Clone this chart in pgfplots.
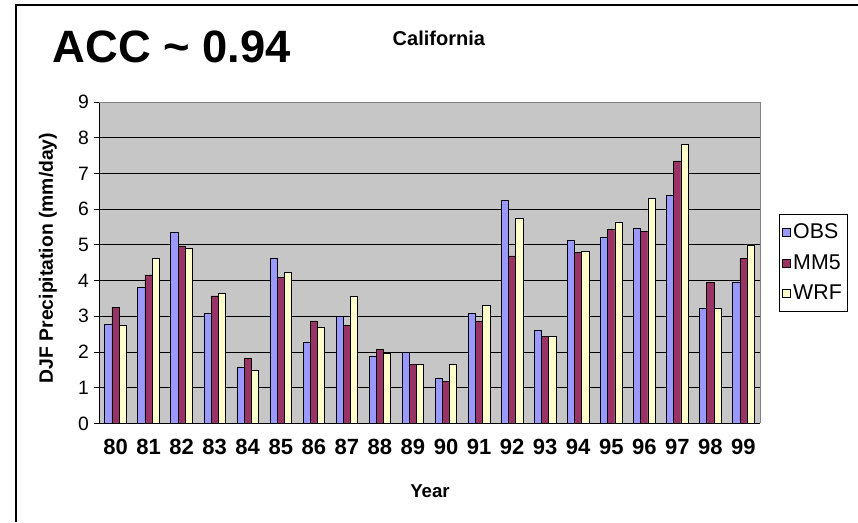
\documentclass[border=0pt]{standalone}
\usepackage{pgfplots}
\pgfplotsset{compat=1.18}
\usepackage{pgfplotstable}
\usepackage{fontspec}
\setmainfont{Liberation Sans}

\definecolor{obs}{HTML}{9999FF}
\definecolor{mmfive}{HTML}{993366}
\definecolor{wrf}{HTML}{FFFFCC}
\definecolor{plotbg}{HTML}{C6C6C6}

% DJF precipitation, California (mm/day)
\pgfplotstableread{
idx yr  obs  mm5  wrf
0   80  2.78 3.26 2.75
1   81  3.82 4.16 4.62
2   82  5.35 4.97 4.91
3   83  3.08 3.57 3.65
4   84  1.56 1.82 1.48
5   85  4.62 4.08 4.24
6   86  2.26 2.87 2.70
7   87  3.00 2.75 3.56
8   88  1.88 2.08 1.95
9   89  2.00 1.65 1.65
10  90  1.26 1.18 1.65
11  91  3.08 2.87 3.30
12  92  6.25 4.69 5.73
13  93  2.60 2.44 2.44
14  94  5.12 4.79 4.82
15  95  5.21 5.43 5.64
16  96  5.47 5.38 6.31
17  97  6.38 7.35 7.82
18  98  3.22 3.95 3.22
19  99  3.95 4.62 5.00
}\precip

\begin{document}
\begin{tikzpicture}
\path[use as bounding box] (0pt,0pt) rectangle (643.5pt,-391.5pt);
\draw[black, line width=0.8pt] (12pt,-391.5pt) -- (12pt,-3.75pt) -- (643.5pt,-3.75pt);

\node[anchor=base west, font=\bfseries\fontsize{34}{40}\selectfont] at (36pt,-46.5pt) {ACC \textasciitilde{} 0.94};
\node[anchor=base west, font=\bfseries\fontsize{15}{17}\selectfont] at (291pt,-33.75pt) {California};
\node[rotate=90, font=\bfseries\fontsize{14.5}{16}\selectfont] at (36pt,-193.5pt) {DJF Precipitation (mm/day)};
\node[anchor=base, font=\bfseries\fontsize{14}{16}\selectfont] at (322.5pt,-373pt) {Year};

\begin{axis}[
    at={(74.25pt,-317.6pt)}, anchor=south west,
    scale only axis,
    width=495.75pt, height=241.1pt,
    xmin=-0.5, xmax=19.5,
    ymin=0, ymax=9,
    ybar=0pt, bar width=5.4pt,
    axis background/.style={fill=plotbg},
    axis lines=left,
    axis line style={-, black, line width=0.6pt},
    ymajorgrids,
    major grid style={black, line width=0.6pt},
    ytick={0,1,...,9},
    xtick={0,1,...,19},
    xticklabels={80,81,82,83,84,85,86,87,88,89,90,91,92,93,94,95,96,97,98,99},
    tick align=outside,
    major tick length=4pt,
    x tick style={draw=none},
    y tick style={black, line width=0.6pt},
    /pgf/number format/assume math mode=true,
    yticklabel style={font=\fontsize{14.5}{16}\selectfont},
    xticklabel style={font=\bfseries\fontsize{16.5}{18}\selectfont, yshift=-4pt},
    legend style={at={(1.0287,0.6516)}, anchor=north west,
        draw=black, font=\fontsize{16}{18}\selectfont,
        row sep=6.5pt, inner xsep=2pt, inner ysep=5pt},
    legend cell align=left,
    legend image code/.code={\draw[#1, line width=0.5pt] (-1pt,-3pt) rectangle (5pt,3pt);},
    after end axis/.code={
        \draw[gray, line width=0.6pt] (rel axis cs:0,1) -- (rel axis cs:1,1) -- (rel axis cs:1,0);
    },
]
\addplot[fill=obs, draw=black, line width=0.5pt] table[x=idx, y=obs] {\precip};
\addplot[fill=mmfive, draw=black, line width=0.5pt] table[x=idx, y=mm5] {\precip};
\addplot[fill=wrf, draw=black, line width=0.5pt] table[x=idx, y=wrf] {\precip};
\legend{OBS,MM5,WRF}
\end{axis}
\end{tikzpicture}
\end{document}
